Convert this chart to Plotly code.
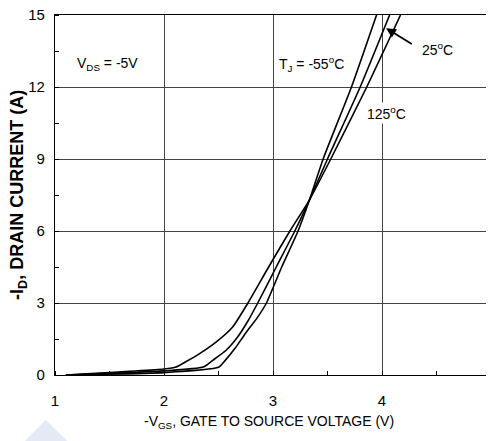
import plotly.graph_objects as go

# -VGS (V) and -ID (A)
vgs_125 = [1.10, 2.00, 2.11, 2.20, 2.33, 2.48, 2.63, 2.77, 2.96, 3.155, 3.335, 3.53, 3.86, 4.17]
id_125 = [0.0, 0.25, 0.33, 0.55, 0.90, 1.38, 2.00, 3.00, 4.50, 6.00, 7.30, 9.00, 12.0, 15.0]

vgs_25 = [1.10, 2.00, 2.36, 2.45, 2.57, 2.67, 2.77, 2.86, 3.03, 3.20, 3.335, 3.50, 3.80, 4.07]
id_25 = [0.0, 0.17, 0.33, 0.62, 1.03, 1.55, 2.25, 3.00, 4.50, 6.00, 7.30, 9.00, 12.0, 15.0]

vgs_m55 = [1.10, 2.00, 2.50, 2.56, 2.65, 2.75, 2.85, 2.94, 3.08, 3.23, 3.335, 3.46, 3.72, 3.95]
id_m55 = [0.0, 0.10, 0.32, 0.60, 1.10, 1.75, 2.35, 3.00, 4.50, 6.00, 7.30, 9.00, 12.0, 15.0]

x_ticks = [1, 2, 3, 4, 5]
y_ticks = [0, 3, 6, 9, 12, 15]

FONT = "Liberation Sans, Arial, sans-serif"

fig = go.Figure()
for xs, ys, name in [(vgs_125, id_125, "125°C"), (vgs_25, id_25, "25°C"), (vgs_m55, id_m55, "-55°C")]:
    fig.add_trace(go.Scatter(x=xs, y=ys, mode="lines", name=name,
                             line=dict(color="black", width=1.6, shape="spline", smoothing=0.5),
                             showlegend=False))

axis_common = dict(showline=True, linecolor="black", linewidth=1.2, mirror=True,
                   showgrid=True, gridcolor="#444444", gridwidth=1, zeroline=False,
                   ticks="", automargin=False, ticklabeloverflow="allow",
                   tickfont=dict(family=FONT, size=15, color="black"))

fig.update_xaxes(range=[1, 5], tickvals=x_ticks, ticklabelstandoff=12,
                 minor=dict(ticks="inside", ticklen=4, dtick=0.5, tickcolor="black", showgrid=False),
                 **axis_common)
fig.update_yaxes(range=[0, 15], tickvals=y_ticks, ticklabelstandoff=6,
                 minor=dict(ticks="inside", ticklen=4, dtick=1.5, tickcolor="black", showgrid=False),
                 **axis_common)

ann_font = dict(family=FONT, size=14, color="black")
annotations = [
    dict(x=1.48, y=12.95, text="V<sub>DS</sub> = -5V", showarrow=False, font=ann_font),
    dict(x=3.35, y=12.95, text="T<sub>J</sub> = -55<sup>o</sup>C", showarrow=False, font=ann_font),
    dict(x=4.51, y=13.6, text="25<sup>o</sup>C", showarrow=False, font=ann_font),
    dict(x=4.04, y=10.9, text="125<sup>o</sup>C", showarrow=False, font=ann_font, bgcolor="white"),
    dict(x=4.037, y=14.45, ax=4.287, ay=13.75, axref="x", ayref="y", text="", showarrow=True,
         arrowhead=2, arrowsize=1.1, arrowwidth=1.8, arrowcolor="black"),
    dict(x=0.49, y=-0.13, xref="paper", yref="paper", showarrow=False,
         xanchor="center", yanchor="middle",
         text="-V<sub>GS</sub>, GATE TO SOURCE VOLTAGE (V)", font=ann_font),
    dict(x=-0.085, y=0.5, xref="paper", yref="paper", showarrow=False, textangle=-90,
         xanchor="center", yanchor="middle",
         text="<b>-I<sub>D</sub>, DRAIN CURRENT (A)</b>", font=dict(family=FONT, size=18, color="black")),
]

# page body has an 8px margin: figure shrunk/shifted so the plot area lands where the reference has it
fig.update_layout(
    width=486, height=433,
    margin=dict(l=47, r=3, t=7, b=66, autoexpand=False),
    paper_bgcolor="white", plot_bgcolor="white",
    annotations=annotations,
    shapes=[dict(type="path", xref="paper", yref="paper",
                 path="M -0.069 -0.183 L -0.021 -0.125 L 0.028 -0.183 Z",
                 fillcolor="#e3e9f5", line=dict(width=0), layer="below")],
)

fig.write_html("out.html")
